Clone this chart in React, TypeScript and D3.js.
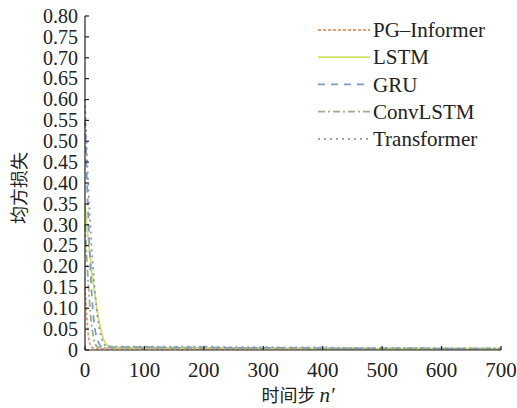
import React, { useRef, useEffect } from 'react';
import * as d3 from 'd3';

const steps = [0, 3, 6, 9, 12, 15, 18, 21, 25, 30, 35, 40, 50, 60, 80, 100, 150, 200, 250, 300, 350, 400, 450, 500, 550, 600, 650, 700];

const pgInformer = [0.15, 0.08, 0.03, 0.012, 0.006, 0.004, 0.003, 0.003, 0.003, 0.003, 0.003, 0.003, 0.003, 0.003, 0.003, 0.003, 0.002, 0.002, 0.002, 0.002, 0.002, 0.002, 0.002, 0.002, 0.002, 0.002, 0.002, 0.002];
const lstm = [0.35, 0.3, 0.26, 0.22, 0.18, 0.15, 0.12, 0.09, 0.06, 0.03, 0.015, 0.01, 0.007, 0.006, 0.006, 0.006, 0.005, 0.005, 0.005, 0.004, 0.004, 0.004, 0.004, 0.003, 0.003, 0.003, 0.003, 0.003];
const gru = [0.55, 0.42, 0.3, 0.2, 0.12, 0.07, 0.04, 0.025, 0.012, 0.008, 0.007, 0.007, 0.007, 0.007, 0.007, 0.007, 0.006, 0.006, 0.005, 0.005, 0.005, 0.004, 0.004, 0.004, 0.004, 0.003, 0.003, 0.003];
const convLstm = [0.3, 0.22, 0.15, 0.09, 0.05, 0.025, 0.012, 0.008, 0.006, 0.005, 0.005, 0.005, 0.005, 0.005, 0.005, 0.005, 0.005, 0.004, 0.004, 0.004, 0.004, 0.003, 0.003, 0.003, 0.003, 0.003, 0.003, 0.003];
const transformer = [0.6, 0.48, 0.38, 0.3, 0.23, 0.17, 0.12, 0.08, 0.045, 0.02, 0.01, 0.008, 0.008, 0.008, 0.008, 0.008, 0.008, 0.008, 0.007, 0.007, 0.006, 0.006, 0.005, 0.005, 0.005, 0.004, 0.004, 0.004];

const seriesNames = ['PG\u2013Informer', 'LSTM', 'GRU', 'ConvLSTM', 'Transformer'];
const seriesValues = [pgInformer, lstm, gru, convLstm, transformer];
const seriesColors = ['#ec9a6c', '#d2e06a', '#7b9cc6', '#97b08a', '#8d92b6'];
const seriesDash = ['3,2', null, '7,6', '7,3,2,3', '2,4'];

const yTicks = d3.range(0, 17).map(i => i * 0.05);
const xTicks = [0, 100, 200, 300, 400, 500, 600, 700];

const SERIF = "'Liberation Serif', 'DejaVu Serif', serif";
const CJK = "'Noto Sans CJK SC', sans-serif";
const FS = 21;

export default function App() {
  const ref = useRef<SVGSVGElement>(null);
  useEffect(() => {
    const svg = d3.select(ref.current);
    svg.selectAll('*').remove();
    const left = 85, right = 501, top = 16, bottom = 350;
    const x = d3.scaleLinear().domain([0, 700]).range([left, right]);
    const y = d3.scaleLinear().domain([0, 0.8]).range([bottom, top]);

    const line = d3.line<number>()
      .x((_, i) => x(steps[i]))
      .y(d => y(d))
      .curve(d3.curveMonotoneX);

    seriesValues.forEach((vals, k) => {
      svg.append('path')
        .attr('d', line(vals))
        .attr('fill', 'none')
        .attr('stroke', seriesColors[k])
        .attr('stroke-width', 1.8)
        .attr('stroke-dasharray', seriesDash[k]);
    });

    // axes
    const ax = svg.append('g').attr('stroke', '#222').attr('stroke-width', 1.2);
    ax.append('line').attr('x1', left).attr('x2', left).attr('y1', top).attr('y2', bottom);
    ax.append('line').attr('x1', left).attr('x2', right).attr('y1', bottom).attr('y2', bottom);
    yTicks.forEach(t => {
      ax.append('line').attr('x1', left).attr('x2', left + 4).attr('y1', y(t)).attr('y2', y(t));
      svg.append('text')
        .attr('x', left - 7).attr('y', y(t)).attr('dy', '0.34em')
        .attr('text-anchor', 'end')
        .style('font-family', SERIF).attr('font-size', 20).attr('fill', '#222')
        .text(t === 0 ? '0' : d3.format('.2f')(t));
    });
    xTicks.forEach(t => {
      ax.append('line').attr('x1', x(t)).attr('x2', x(t)).attr('y1', bottom).attr('y2', bottom - 4);
      svg.append('text')
        .attr('x', x(t)).attr('y', bottom + 27)
        .attr('text-anchor', 'middle')
        .style('font-family', SERIF).attr('font-size', FS).attr('fill', '#222')
        .text(t);
    });

    const xl = svg.append('text')
      .attr('x', 298).attr('y', 402)
      .attr('text-anchor', 'middle')
      .attr('font-size', FS).attr('fill', '#222');
    xl.append('tspan').style('font-family', CJK).attr('font-size', 18).text('时间步 ');
    xl.append('tspan').style('font-family', SERIF).attr('font-style', 'italic').text('n\u2032');

    svg.append('text')
      .attr('transform', `translate(26,188) rotate(-90)`)
      .attr('text-anchor', 'middle')
      .style('font-family', CJK)
      .attr('font-size', 18).attr('fill', '#222')
      .text('均方损失');

    // legend
    seriesNames.forEach((name, k) => {
      const ly = 30 + k * 27.2;
      svg.append('line')
        .attr('x1', 318).attr('x2', 370).attr('y1', ly).attr('y2', ly)
        .attr('stroke', seriesColors[k]).attr('stroke-width', 1.8)
        .attr('stroke-dasharray', seriesDash[k]);
      svg.append('text')
        .attr('x', 373).attr('y', ly).attr('dy', '0.34em')
        .style('font-family', SERIF).attr('font-size', FS).attr('fill', '#222')
        .text(name);
    });
  }, []);
  return (
    <svg
      ref={ref}
      width={517}
      height={408}
      style={{ display: 'block', position: 'absolute', left: 0, top: 0 }}
    />
  );
}
